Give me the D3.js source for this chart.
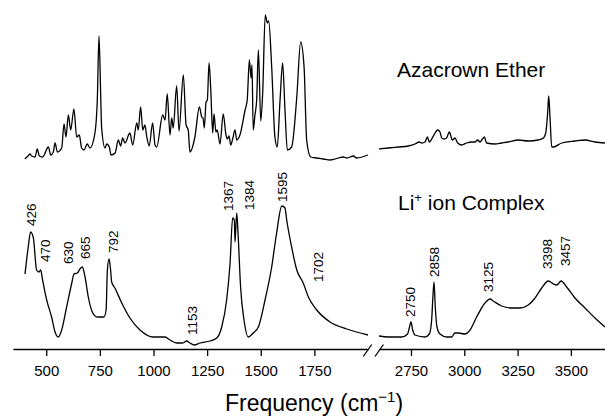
<!DOCTYPE html>
<html>
<head>
<meta charset="utf-8">
<script src="https://cdn.jsdelivr.net/npm/d3@7"></script>
<style>
  body { margin: 0; background: #fff; }
  svg { display: block; font-family: "Liberation Sans", Arial, sans-serif; }
</style>
</head>
<body>
<svg id="chart"></svg>
<script>
var width = 605;
var height = 419;

// spectra: [wavenumber (cm-1), intensity (arb. units)]
var azaLeft = [
  [400,191],[415,194],[424,196],[432,194],[448,193],[458,201],[468,194],[483,193],
  [510,203],[521,195],[533,198],[541,207],[552,198],[572,202],[583,226],[592,213],
  [603,235],[614,220],[629,241],[642,213],[654,215],[665,202],[676,200],[691,206],
  [704,202],[727,217],[738,250],[746,314],[754,253],[758,223],[774,202],[782,206],
  [794,203],[802,195],[821,197],[836,210],[847,204],[856,212],[867,207],[890,217],
  [903,205],[922,227],[929,220],[940,243],[950,220],[960,225],[968,214],[980,204],
  [996,227],[1007,205],[1015,203],[1043,235],[1054,230],[1064,256],[1077,215],[1085,232],
  [1092,222],[1108,264],[1119,219],[1139,275],[1152,225],[1162,220],[1170,198],[1193,213],
  [1214,243],[1225,233],[1231,232],[1237,222],[1245,248],[1251,250],[1259,287],[1267,260],
  [1276,217],[1282,236],[1291,218],[1297,220],[1310,206],[1325,236],[1338,215],[1344,211],
  [1352,214],[1360,205],[1369,211],[1380,220],[1388,210],[1403,215],[1427,240],[1437,250],
  [1447,290],[1455,272],[1459,285],[1465,220],[1473,235],[1481,250],[1489,300],[1500,229],
  [1509,257],[1521,335],[1531,327],[1537,329],[1551,283],[1566,213],[1577,203],[1590,250],
  [1602,287],[1613,240],[1624,200],[1644,203],[1668,253],[1686,308],[1702,283],[1714,210],
  [1733,193],[1761,192],[1792,191],[1823,190],[1885,193],[1901,192],[1932,194],[1947,192],
  [2000,195]
];
var azaRight = [
  [2600,201],[2644,202],[2691,203],[2737,204],[2769,206],[2789,208],[2800,207],[2816,208],
  [2827,213],[2836,208],[2850,212],[2863,217],[2875,220],[2886,218],[2894,212],[2906,211],
  [2917,212],[2930,218],[2944,210],[2956,212],[2969,207],[2988,205],[3011,207],[3035,208],
  [3050,208],[3063,210],[3074,208],[3085,211],[3094,213],[3105,207],[3144,206],[3175,207],
  [3206,208],[3253,210],[3300,209],[3347,210],[3371,212],[3382,217],[3391,237],[3396,254],
  [3402,233],[3410,203],[3418,203],[3457,207],[3519,209],[3566,210],[3613,208],[3660,207]
];
var liLeft = [
  [401,76],[416,103],[427,118],[440,112],[455,80],[466,78],[474,80],[483,70],
  [502,50],[525,33],[541,18],[556,13],[572,20],[595,43],[619,67],[629,76],
  [645,77],[657,81],[668,83],[681,73],[696,53],[717,37],[738,33],[769,33],
  [779,40],[785,80],[793,91],[800,80],[805,68],[820,62],[852,47],[890,32],
  [937,20],[999,13],[1054,13],[1077,10],[1108,7],[1136,7],[1155,9],[1170,7],
  [1190,5],[1217,7],[1263,9],[1295,12],[1318,23],[1341,50],[1357,87],[1369,132],
  [1377,130],[1380,108],[1388,137],[1395,113],[1406,63],[1422,30],[1442,13],[1465,17],
  [1489,23],[1520,50],[1551,83],[1574,117],[1598,144],[1613,142],[1621,130],[1644,103],
  [1668,80],[1698,67],[1722,53],[1761,40],[1823,28],[1901,21],[2000,15]
];
var liRight = [
  [2600,14],[2644,13],[2706,13],[2734,16],[2742,22],[2750,28],[2758,20],[2769,15],
  [2816,13],[2836,16],[2847,30],[2852,50],[2858,68],[2864,43],[2872,23],[2886,16],
  [2918,13],[2941,13],[2956,17],[2972,17],[3003,16],[3027,20],[3058,33],[3097,47],
  [3121,51],[3136,49],[3175,44],[3222,42],[3261,42],[3300,45],[3332,52],[3363,62],
  [3394,69],[3418,66],[3434,65],[3454,69],[3480,63],[3519,52],[3566,42],[3613,32],
  [3660,23]
];

var leftTicks = [500, 750, 1000, 1250, 1500, 1750];
var rightTicks = [2750, 3000, 3250, 3500];

var peakLabels = ["426","470","630","665","792","1153","1367","1384","1595","1702",
                  "2750","2858","3125","3398","3457"];
// label placement: [dx from peak, bottom y]
var labelPos = [[0.5,226],[5,262],[-6,264],[3.5,259],[4.5,253],[5.5,335],[-4,211],[13.5,210],
                [0.5,202],[14,282],[-1,317],[0,277],[-2.5,292],[-2.5,269],[3.5,266]];

var svg = d3.select("#chart").attr("width", width).attr("height", height);

var xLeft = d3.scaleLinear().domain([345, 2000]).range([13, 368]);
var xRight = d3.scaleLinear().domain([2600, 3660]).range([379, 605]);
var y = d3.scaleLinear().domain([0, 340]).range([350, 10]);

function lineFor(x) {
    return d3.line()
        .x(function(d) { return x(d[0]); })
        .y(function(d) { return y(d[1]); })
        .curve(d3.curveMonotoneX);
}

var traces = svg.append("g").attr("fill", "none").attr("stroke", "#000")
    .attr("stroke-width", 1.3).attr("stroke-linejoin", "round");
traces.append("path").attr("d", lineFor(xLeft)(azaLeft));
traces.append("path").attr("d", lineFor(xRight)(azaRight));
traces.append("path").attr("d", lineFor(xLeft)(liLeft));
traces.append("path").attr("d", lineFor(xRight)(liRight));

// axes
var axisY = 349;
var fmt = d3.format("d");
svg.append("g").attr("transform", "translate(0," + axisY + ")")
    .call(d3.axisBottom(xLeft).tickValues(leftTicks).tickFormat(fmt).tickSize(7).tickSizeOuter(0).tickPadding(9));
svg.append("g").attr("transform", "translate(0," + axisY + ")")
    .call(d3.axisBottom(xRight).tickValues(rightTicks).tickFormat(fmt).tickSize(7).tickSizeOuter(0).tickPadding(9));
svg.selectAll(".tick text").attr("font-size", 15).attr("font-family", "Liberation Sans, Arial, sans-serif");
svg.selectAll(".domain, .tick line").attr("stroke-width", 1.3);

// break marks
[367.5, 379.2].forEach(function(bx) {
    svg.append("line")
        .attr("x1", bx - 4.2).attr("y1", axisY + 7.5)
        .attr("x2", bx + 4.2).attr("y2", axisY - 4.5)
        .attr("stroke", "#000").attr("stroke-width", 1.3);
});

// peak labels
svg.append("g").selectAll("text")
    .data(peakLabels)
    .enter().append("text")
    .attr("transform", function(d, i) {
        var v = +d;
        var x = v < 2300 ? xLeft(v) : xRight(v);
        return "translate(" + (x + labelPos[i][0]) + "," + labelPos[i][1] + ") rotate(-90)";
    })
    .attr("dy", "0.36em")
    .attr("font-size", 13.5)
    .text(function(d) { return d; });

// trace names
svg.append("text").attr("x", 397).attr("y", 77).attr("font-size", 21).text("Azacrown Ether");
var li = svg.append("text").attr("x", 398).attr("y", 210).attr("font-size", 21);
li.append("tspan").text("Li");
li.append("tspan").attr("font-size", 13).attr("dy", -8).text("+");
li.append("tspan").attr("dy", 8).text(" ion Complex");

// axis title
var title = svg.append("text").attr("x", 314).attr("y", 411)
    .attr("text-anchor", "middle").attr("font-size", 23);
title.append("tspan").text("Frequency (cm");
title.append("tspan").attr("font-size", 15).attr("dy", -9).text("\u22121");
title.append("tspan").attr("dy", 9).text(")");
</script>
</body>
</html>
